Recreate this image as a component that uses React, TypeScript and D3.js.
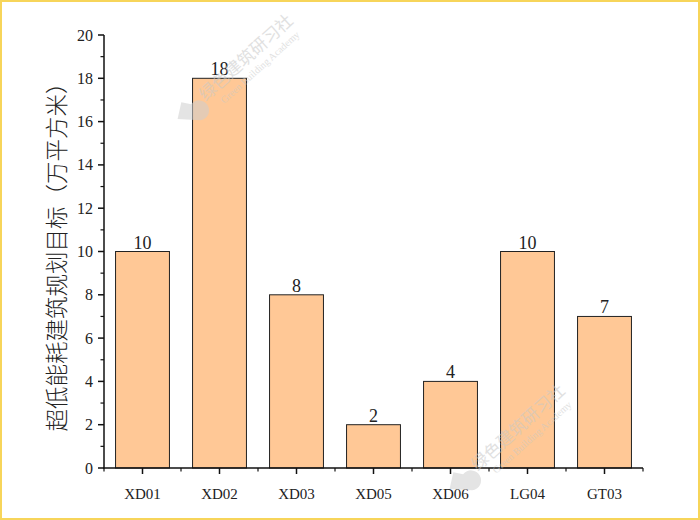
import React from "react";
import * as d3 from "d3";

const categories = ["XD01", "XD02", "XD03", "XD05", "XD06", "LG04", "GT03"];
const values = [10, 18, 8, 2, 4, 10, 7];
const yTicks = [0, 2, 4, 6, 8, 10, 12, 14, 16, 18, 20];
const yMinorTicks = [1, 3, 5, 7, 9, 11, 13, 15, 17, 19];
const yTitle = "超低能耗建筑规划目标（万平方米）";
const watermarkCn = "绿色建筑研习社";
const watermarkEn = "Green Building Academy";

const W = 700, H = 520;
const left = 104, right = 643, top = 35, bottom = 468;

export default function App() {
  const x = d3.scaleBand<string>().domain(categories).range([left, right]).paddingInner(0.3).paddingOuter(0.15);
  const y = d3.scaleLinear().domain([0, 20]).range([bottom, top]);
  const step = x.step();
  const serif = "'Liberation Serif', 'DejaVu Serif', serif";
  const boundaries = d3.range(categories.length + 1).map((i) => left + i * step);

  return (
    <div style={{ position: "fixed", left: 0, top: 0 }}>
      <svg width={W} height={H} style={{ display: "block", background: "#fff" }}>
        <rect x={1} y={1} width={W - 2} height={H - 2} fill="#fff" stroke="#F7D55A" strokeWidth={2} />
        {/* bars */}
        {categories.map((c, i) => (
          <g key={c}>
            <rect x={x(c)} y={y(values[i])} width={x.bandwidth()} height={bottom - y(values[i])} fill="#FFC896" stroke="#222" strokeWidth={1} />
            <text x={(x(c) as number) + x.bandwidth() / 2} y={y(values[i]) - 3} fontSize={18} fontFamily={serif} fill="#222" textAnchor="middle">{values[i]}</text>
          </g>
        ))}
        {/* y axis */}
        <line x1={left} x2={left} y1={top} y2={bottom + 0.5} stroke="#111" strokeWidth={1.5} />
        {yTicks.map((t) => (
          <g key={t}>
            <line x1={left - 6} x2={left} y1={y(t)} y2={y(t)} stroke="#111" strokeWidth={1.5} />
            <text x={left - 11} y={y(t) + 5.5} fontSize={16} fontFamily={serif} fill="#222" textAnchor="end">{t}</text>
          </g>
        ))}
        {yMinorTicks.map((t) => (
          <line key={t} x1={left - 3.5} x2={left} y1={y(t)} y2={y(t)} stroke="#111" strokeWidth={1.2} />
        ))}
        {/* x axis */}
        <line x1={left - 0.75} x2={right} y1={bottom} y2={bottom} stroke="#111" strokeWidth={1.5} />
        {categories.map((c) => {
          const cx = (x(c) as number) + x.bandwidth() / 2;
          return (
            <g key={c}>
              <line x1={cx} x2={cx} y1={bottom} y2={bottom + 6} stroke="#111" strokeWidth={1.5} />
              <text x={cx} y={bottom + 31} fontSize={15} fontFamily={serif} fill="#222" textAnchor="middle">{c}</text>
            </g>
          );
        })}
        {boundaries.map((b, i) => (
          <line key={i} x1={b} x2={b} y1={bottom} y2={bottom + 3.5} stroke="#111" strokeWidth={1.2} />
        ))}
        {/* y title */}
        <text transform={`translate(65,${(top + bottom) / 2}) rotate(-90)`} fontSize={22.5} fontFamily="'Noto Sans CJK SC', sans-serif" fontWeight={300} fill="#222" textAnchor="middle">{yTitle}</text>
        {/* watermarks */}
        {[{ cx: 250, cy: 62 }, { cx: 522, cy: 432 }].map((p, i) => (
          <g key={i} transform={`translate(${p.cx},${p.cy}) rotate(-42)`} opacity={0.55}>
            <text x={0} y={0} fontSize={17} fill="#c8c8c8" fontFamily="'Noto Sans CJK SC', sans-serif" textAnchor="middle">{watermarkCn}</text>
            <text x={4} y={14} fontSize={10} fill="#c8c8c8" fontFamily={serif} textAnchor="middle">{watermarkEn}</text>
            <path d="M-92,-6 l14,-10 l6,8 a10,10 0 1 1 -4,18 z" fill="#cfcfcf" />
          </g>
        ))}
      </svg>
    </div>
  );
}
